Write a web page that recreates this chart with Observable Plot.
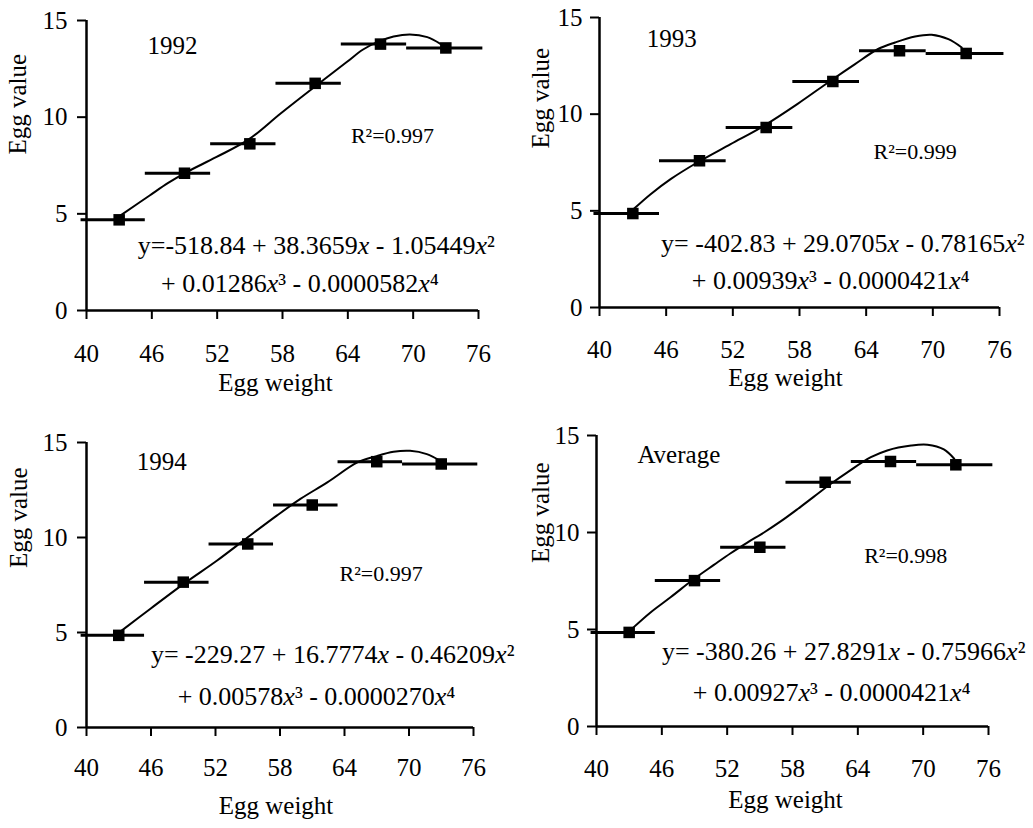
<!DOCTYPE html>
<html><head><meta charset="utf-8">
<script src="https://cdn.jsdelivr.net/npm/d3@7"></script>
<script src="https://cdn.jsdelivr.net/npm/@observablehq/plot@0.6"></script>
<style>
html,body{margin:0;padding:0;background:#fff;}
#wrap{position:relative;width:1033px;height:828px;background:#fff;overflow:hidden;}
.panel{position:absolute;}
.panel svg text{font-family:'Liberation Serif','Times New Roman','DejaVu Serif',serif;}
</style></head><body><div id="wrap"></div>
<script>
// ---- data ----
const xTicks = [40, 46, 52, 58, 64, 70, 76];
const yTicks = [0, 5, 10, 15];
const eggWeight = [43, 49, 55, 61, 67, 73];
const classLow = [39.5, 45.4, 51.4, 57.4, 63.4, 69.4];
const classHigh = [45.4, 51.4, 57.4, 63.4, 69.4, 76.4];

const value1992 = [4.69, 7.10, 8.62, 11.75, 13.78, 13.58];
const value1993 = [4.86, 7.59, 9.31, 11.69, 13.28, 13.14];
const value1994 = [4.85, 7.65, 9.66, 11.71, 13.99, 13.87];
const valueAverage = [4.85, 7.52, 9.24, 12.59, 13.66, 13.49];

const fitX1992 = [43.1, 45.8, 47.5, 49.2, 51.9, 54.9, 57.8, 60.9, 63.9, 65.4, 66.9, 68.2, 69.7, 71.3, 72.5];
const fitY1992 = [4.91, 5.95, 6.6, 7.16, 7.93, 8.85, 10.18, 11.55, 12.85, 13.5, 13.93, 14.17, 14.28, 14.14, 13.79];
const fitX1993 = [43.07, 44.6, 46.4, 48.8, 51.8, 54.8, 57.8, 60.8, 63.0, 65.07, 66.6, 68.4, 69.9, 71.4, 72.6];
const fitY1993 = [5.09, 5.86, 6.64, 7.5, 8.45, 9.4, 10.52, 11.73, 12.59, 13.37, 13.71, 14.02, 14.11, 13.88, 13.45];
const fitX1994 = [43.3, 45.95, 49.04, 52.15, 55.0, 57.7, 59.9, 62.4, 65.2, 66.9, 68.56, 70.1, 71.66, 72.9];
const fitY1994 = [5.11, 6.25, 7.56, 8.79, 10.01, 11.15, 12.03, 12.9, 13.95, 14.27, 14.51, 14.56, 14.39, 14.04];
const fitXAverage = [43.4, 44.96, 46.8, 48.94, 50.78, 52.32, 53.85, 55.38, 56.91, 58.45, 59.97, 61.5, 63.04, 65.2, 66.7, 68.9, 70.4, 71.9, 72.85];
const fitYAverage = [5.11, 5.88, 6.66, 7.6, 8.33, 8.93, 9.48, 10.0, 10.57, 11.2, 11.85, 12.5, 13.1, 13.88, 14.23, 14.48, 14.52, 14.28, 13.8];

const panelTitles = ["1992", "1993", "1994", "Average"];
const r2Labels = ["R²=0.997", "R²=0.999", "R²=0.997", "R²=0.998"];
const eqLine1 = [
  "y=-518.84 + 38.3659x - 1.05449x²",
  "y= -402.83 + 29.0705x - 0.78165x²",
  "y= -229.27 + 16.7774x - 0.46209x²",
  "y= -380.26 + 27.8291x - 0.75966x²"
];
const eqLine2 = [
  "+ 0.01286x³ - 0.0000582x⁴",
  "+ 0.00939x³ - 0.0000421x⁴",
  "+ 0.00578x³ - 0.0000270x⁴",
  "+ 0.00927x³ - 0.0000421x⁴"
];
const xLabel = "Egg weight";
const yLabel = "Egg value";

const panelValues = [value1992, value1993, value1994, valueAverage];
const panelFitX = [fitX1992, fitX1993, fitX1994, fitXAverage];
const panelFitY = [fitY1992, fitY1993, fitY1994, fitYAverage];

// ---- layout (positions / sizes) ----
const layout = [
  {left: 0, top: 0, width: 516, height: 405, ml: 86, mr: 38, mt: 20, mb: 95, xPad: 25, yPad: 10,
   ylab: [-69, -11], xlab: [-7, 80], title: [47.9, 13.7], r2: [68.1, 9.05], eq1: [61.1, 3.36], eq2: [59.6, 1.40]},
  {left: 515, top: 0, width: 518, height: 405, ml: 84, mr: 34, mt: 17, mb: 98, xPad: 24, yPad: 8,
   ylab: [-59, -14], xlab: [-14, 78], title: [46.5, 13.88], r2: [68.4, 8.02], eq1: [61.9, 3.28], eq2: [60.8, 1.38]},
  {left: 0, top: 410, width: 516, height: 418, ml: 86, mr: 43, mt: 32, mb: 101, xPad: 21.5, yPad: 10,
   ylab: [-68, -17], xlab: [-4, 86], title: [47.0, 13.95], r2: [67.4, 8.09], eq1: [62.9, 3.85], eq2: [61.4, 1.61]},
  {left: 515, top: 410, width: 518, height: 418, ml: 81, mr: 45, mt: 25, mb: 102, xPad: 24, yPad: 8,
   ylab: [-56, -18], xlab: [-7, 81], title: [47.56, 14.0], r2: [68.4, 8.77], eq1: [62.7, 3.86], eq2: [61.6, 1.75]}
];

const FONT = "'Liberation Serif', 'Times New Roman', 'DejaVu Serif', serif";
const wrap = document.getElementById("wrap");

panelTitles.forEach((title, k) => {
  const L = layout[k];
  const pts = eggWeight.map((w, i) => ({w, v: panelValues[k][i], lo: classLow[i], hi: classHigh[i]}));
  const fit = panelFitX[k].map((x, i) => ({x, y: panelFitY[k][i]}));
  const svg = Plot.plot({
    width: L.width, height: L.height,
    marginLeft: L.ml, marginRight: L.mr, marginTop: L.mt, marginBottom: L.mb,
    style: {fontFamily: FONT, fontSize: "25px", color: "#000", background: "#fff", overflow: "visible"},
    x: {domain: [40, 76]},
    y: {domain: [0, 15]},
    marks: [
      Plot.axisX({ticks: xTicks, tickSize: 9, tickPadding: L.xPad, strokeWidth: 2, label: null, fontFamily: FONT, fontSize: 25, tickFormat: d => String(d)}),
      Plot.axisY({ticks: yTicks, tickSize: 9, tickPadding: L.yPad, strokeWidth: 2, label: null, fontFamily: FONT, fontSize: 25, tickFormat: d => String(d)}),
      Plot.ruleY([0], {strokeWidth: 2.5}),
      Plot.ruleX([40], {strokeWidth: 2.5}),
      Plot.ruleY(pts, {y: "v", x1: "lo", x2: "hi", strokeWidth: 3, stroke: "#000"}),
      Plot.line(fit, {x: "x", y: "y", curve: "catmull-rom", strokeWidth: 2, stroke: "#000"}),
      Plot.dot(pts, {x: "w", y: "v", symbol: "square", r: 6.5, fill: "#000", stroke: "none"}),
      Plot.text([title], {x: L.title[0], y: L.title[1], text: d => d, fontSize: 25, fill: "#000"}),
      Plot.text([r2Labels[k]], {x: L.r2[0], y: L.r2[1], text: d => d, fontSize: 22, fill: "#000"}),
      Plot.text([eqLine1[k]], {x: L.eq1[0], y: L.eq1[1], text: d => d, fontSize: 26, fill: "#000"}),
      Plot.text([eqLine2[k]], {x: L.eq2[0], y: L.eq2[1], text: d => d, fontSize: 26, fill: "#000"}),
      Plot.text([xLabel], {frameAnchor: "bottom", dx: L.xlab[0], dy: L.xlab[1], text: d => d, fontSize: 25, fill: "#000"}),
      Plot.text([yLabel], {frameAnchor: "left", rotate: -90, dx: L.ylab[0], dy: L.ylab[1], text: d => d, fontSize: 25, fill: "#000"})
    ]
  });
  // italic x in equations
  svg.querySelectorAll("text").forEach(t => {
    const s = t.textContent;
    if (/^(y=|\+ 0)/.test(s)) {
      t.textContent = "";
      s.split(/(x)/).forEach(part => {
        if (!part) return;
        const ts = document.createElementNS("http://www.w3.org/2000/svg", "tspan");
        ts.textContent = part;
        if (part === "x") ts.setAttribute("font-style", "italic");
        t.appendChild(ts);
      });
    }
  });
  const div = document.createElement("div");
  div.className = "panel";
  div.style.left = L.left + "px";
  div.style.top = L.top + "px";
  div.appendChild(svg);
  wrap.appendChild(div);
});
</script>
</body></html>
